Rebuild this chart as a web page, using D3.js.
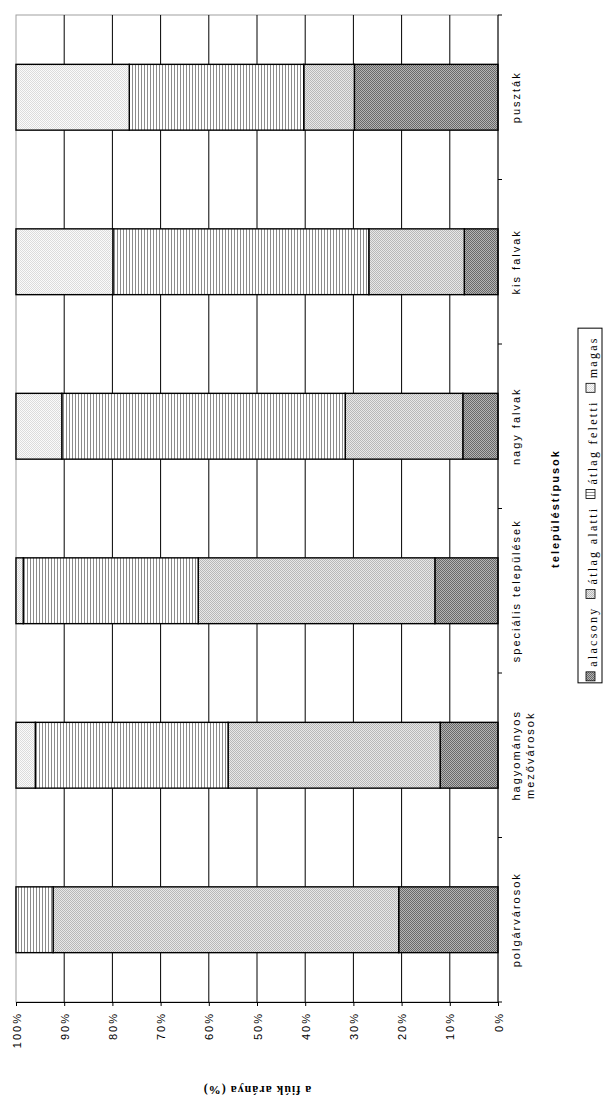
<!DOCTYPE html>
<html>
<head>
<meta charset="utf-8">
<script src="https://cdn.jsdelivr.net/npm/d3@7"></script>
<style>
  body { margin: 0; background: #fff; }
  svg { display: block; }
</style>
</head>
<body>
<div id="chart"></div>
<script>
// chart data - categories in the original order (first one ends up at the bottom)
var categories = ['polgárvárosok', 'hagyományos mezővárosok', 'speciális települések', 'nagy falvak', 'kis falvak', 'puszták'];
var catLabels = [['polgárvárosok'], ['hagyományos', 'mezővárosok'], ['speciális települések'], ['nagy falvak'], ['kis falvak'], ['puszták']];
var seriesNames = ['alacsony', 'átlag alatti', 'átlag feletti', 'magas'];
var alacsony     = [20.6, 12.0, 13.1,  7.3,  7.0, 29.8];
var atlagAlatti  = [71.7, 44.0, 49.1, 24.4, 19.8, 10.5];
var atlagFeletti = [ 7.7, 40.0, 36.3, 58.8, 53.1, 36.2];
var magas        = [ 0.0,  4.0,  1.5,  9.5, 20.1, 23.5];
var tickValues = [0, 10, 20, 30, 40, 50, 60, 70, 80, 90, 100];
var tickLabels = ['0%', '10%', '20%', '30%', '40%', '50%', '60%', '70%', '80%', '90%', '100%'];
var valueTitle = 'a fiúk aránya (%)';
var catTitle = 'településtípusok';

var width = 603, height = 1099;
var sans = "'Liberation Sans', Arial, sans-serif";
var serif = "'Liberation Serif', 'Times New Roman', serif";

var svg = d3.select('#chart').append('svg')
    .attr('width', width).attr('height', height);

// fill patterns
var defs = svg.append('defs');
function dots(id, base, dot) {
    var p = defs.append('pattern').attr('id', id)
        .attr('patternUnits', 'userSpaceOnUse').attr('width', 2).attr('height', 2);
    p.append('rect').attr('width', 2).attr('height', 2).attr('fill', base);
    p.append('rect').attr('width', 1).attr('height', 1).attr('fill', dot);
    p.append('rect').attr('x', 1).attr('y', 1).attr('width', 1).attr('height', 1).attr('fill', dot);
}
dots('p0', '#b4b4b4', '#686868');
dots('p1', '#e8e8e8', '#b8b8b8');
dots('p3', '#fbfbfb', '#dcdcdc');
var pv = defs.append('pattern').attr('id', 'p2')
    .attr('patternUnits', 'userSpaceOnUse').attr('width', 3).attr('height', 3);
pv.append('rect').attr('width', 3).attr('height', 3).attr('fill', '#fff');
pv.append('rect').attr('width', 1).attr('height', 3).attr('fill', '#8c8c8c');
var ph = defs.append('pattern').attr('id', 'p2h')
    .attr('patternUnits', 'userSpaceOnUse').attr('width', 3).attr('height', 3);
ph.append('rect').attr('width', 3).attr('height', 3).attr('fill', '#fff');
ph.append('rect').attr('width', 3).attr('height', 1).attr('fill', '#8c8c8c');
var fills = ['url(#p0)', 'url(#p1)', 'url(#p2)', 'url(#p3)'];
var keyFills = ['url(#p0)', 'url(#p1)', 'url(#p2h)', 'url(#p3)'];

// scales: values run right->left, categories bottom->top (page is turned)
var x = d3.scaleLinear().domain([0, 100]).range([498, 16]);
var y = d3.scaleBand().domain(categories).range([1002, 15])
    .paddingInner(0.6).paddingOuter(0.3);

// rows for the stack
var rows = categories.map(function(c, i) {
    return { cat: c, 'alacsony': alacsony[i], 'átlag alatti': atlagAlatti[i],
             'átlag feletti': atlagFeletti[i], 'magas': magas[i] };
});
var stacked = d3.stack().keys(seriesNames)(rows);

// plot border + gridlines
svg.append('rect')
    .attr('x', x(100)).attr('y', 15)
    .attr('width', x(0) - x(100)).attr('height', 1002 - 15)
    .attr('fill', 'none').attr('stroke', '#a0a0a0');
svg.append('g').selectAll('line')
    .data(tickValues.filter(function(t) { return t > 0 && t < 100; }))
    .enter().append('line')
    .attr('x1', function(d) { return x(d); }).attr('x2', function(d) { return x(d); })
    .attr('y1', 15).attr('y2', 1002)
    .attr('stroke', '#000').attr('stroke-width', 1);

// bars
var layer = svg.append('g').selectAll('g')
    .data(stacked).enter().append('g')
    .attr('fill', function(d, i) { return fills[i]; });
layer.selectAll('rect')
    .data(function(d) { return d.filter(function(s) { return s[1] - s[0] > 0; }); })
    .enter().append('rect')
    .attr('x', function(d) { return x(d[1]); })
    .attr('width', function(d) { return x(d[0]) - x(d[1]); })
    .attr('y', function(d) { return y(d.data.cat); })
    .attr('height', y.bandwidth())
    .attr('stroke', '#000').attr('stroke-width', 1.4);

// value axis along the bottom, labels turned
var xAxis = svg.append('g')
    .attr('transform', 'translate(0,1002)')
    .call(d3.axisBottom(x).tickValues(tickValues).tickSize(4).tickSizeOuter(4)
        .tickFormat(function(d, i) { return tickLabels[i]; }));
xAxis.selectAll('path, line').attr('stroke', '#000');
xAxis.selectAll('text')
    .attr('transform', 'rotate(-90)')
    .attr('x', -10).attr('y', 4).attr('dy', 0)
    .attr('text-anchor', 'end')
    .style('font-family', sans).style('font-size', '11px')
    .style('letter-spacing', '2px').attr('fill', '#000');

// category axis on the right
svg.append('line')
    .attr('x1', x(0)).attr('x2', x(0)).attr('y1', 15).attr('y2', 1002)
    .attr('stroke', '#000');
svg.append('g').selectAll('line')
    .data(d3.range(categories.length + 1))
    .enter().append('line')
    .attr('x1', x(0)).attr('x2', x(0) + 4)
    .attr('y1', function(i) { return 1002 - i * y.step(); })
    .attr('y2', function(i) { return 1002 - i * y.step(); })
    .attr('stroke', '#000');

var catText = svg.append('g').selectAll('text')
    .data(categories).enter().append('text')
    .attr('transform', function(d) {
        return 'translate(520,' + (y(d) + y.bandwidth() / 2) + ') rotate(-90)';
    })
    .attr('text-anchor', 'middle')
    .style('font-family', sans).style('font-size', '11px')
    .style('letter-spacing', '2px');
catText.selectAll('tspan')
    .data(function(d, i) { return catLabels[i]; })
    .enter().append('tspan')
    .attr('x', 0).attr('y', function(d, i) { return i * 14; })
    .text(function(d) { return d; });

// axis titles
svg.append('text')
    .attr('transform', 'translate(559,' + (15 + 1002) / 2 + ') rotate(-90)')
    .attr('text-anchor', 'middle')
    .style('font-family', sans).style('font-size', '11px')
    .style('font-weight', 'bold').style('letter-spacing', '2px')
    .text(catTitle);
svg.append('text')
    .attr('transform', 'translate(' + (x(0) + x(100)) / 2 + ',1086) rotate(180)')
    .attr('text-anchor', 'middle')
    .style('font-family', serif).style('font-size', '12px')
    .style('font-weight', 'bold').style('letter-spacing', '1px')
    .text(valueTitle);

// legend, stacked upwards
var legend = svg.append('g');
var box = legend.append('rect').attr('fill', '#fff').attr('stroke', '#000');
var items = legend.selectAll('g').data(seriesNames).enter().append('g');
items.append('text')
    .attr('text-anchor', 'start')
    .style('font-family', serif).style('font-size', '12px')
    .style('letter-spacing', '2.3px')
    .text(function(d) { return d; });
var lens = [];
items.select('text').each(function() { lens.push(this.getComputedTextLength()); });
var total = d3.sum(lens) + seriesNames.length * 14 + (seriesNames.length - 1) * 8;
var cursor = (15 + 1002) / 2 + total / 2;
items.each(function(d, i) {
    var g = d3.select(this);
    g.insert('rect', 'text')
        .attr('x', 586).attr('y', cursor - 9)
        .attr('width', 9).attr('height', 9)
        .attr('fill', keyFills[i]).attr('stroke', '#000').attr('stroke-width', 0.8);
    g.select('text').attr('transform', 'translate(597,' + (cursor - 14) + ') rotate(-90)');
    cursor = cursor - 14 - lens[i] - 8;
});
box.attr('x', 578).attr('width', 24)
    .attr('y', cursor).attr('height', (15 + 1002) / 2 + total / 2 + 2 - cursor);
</script>
</body>
</html>
